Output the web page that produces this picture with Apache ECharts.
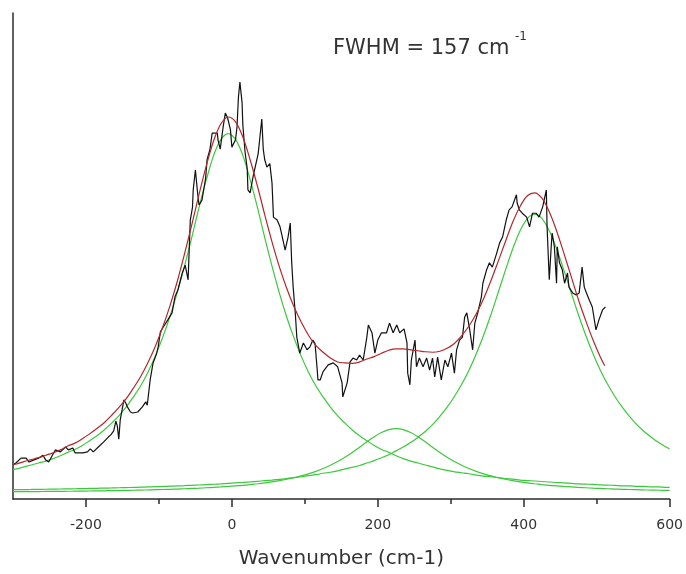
<!DOCTYPE html>
<html><head><meta charset="utf-8">
<script src="https://cdn.jsdelivr.net/npm/echarts@6/dist/echarts.min.js"></script>
<style>html,body{margin:0;padding:0;background:#fff}#c{width:686px;height:574px}</style>
</head><body><div id="c"></div>
<script>
// x positions (cm-1) of the fitted curves
const fitX = [-300,-295,-285,-275,-265,-255,-245,-235,-225,-215,
  -205,-195,-185,-175,-165,-155,-145,-135,-125,-115,
  -105,-95,-85,-75,-65,-55,-45,-35,-25,-15,
  -5,5,15,25,35,45,55,65,75,85,
  95,105,115,125,135,145,155,165,175,185,
  195,205,215,225,235,245,255,265,275,285,
  295,305,315,325,335,345,355,365,375,385,
  395,405,415,425,435,445,455,465,475,485,
  495,505,515,525,535,545,555,565,575,585,
  595,600];
// green component peak near 0
const peak1 = [6.05,6.2,6.6,7.0,7.4,7.8,8.3,8.9,9.6,10.2,
  11.0,12.0,13.0,14.2,15.6,17.1,18.9,21.0,23.3,26.1,
  29.4,33.2,37.5,42.4,47.9,53.8,60.0,65.7,70.7,74.0,
  75.2,74.0,70.7,65.7,60.0,53.8,47.9,42.4,37.5,33.2,
  29.4,26.1,23.3,21.0,18.9,17.1,15.6,14.2,13.0,12.0,
  11.0,10.2,9.6,8.9,8.3,7.8,7.4,7.0,6.6,6.2,
  5.9,5.6,5.4,5.2,4.9,4.7,4.6,4.4,4.2,4.1,
  3.9,3.8,3.7,3.6,3.5,3.4,3.3,3.2,3.1,3.05,
  3.0,2.9,2.84,2.8,2.7,2.7,2.6,2.6,2.5,2.5,
  2.4,2.4];
// green component peak near 225
const peak2 = [1.50,1.50,1.51,1.52,1.53,1.55,1.56,1.58,1.59,1.61,
  1.63,1.65,1.67,1.69,1.72,1.74,1.77,1.80,1.84,1.87,
  1.91,1.95,2.00,2.05,2.11,2.17,2.23,2.31,2.39,2.48,
  2.58,2.70,2.82,2.97,3.14,3.33,3.53,3.78,4.06,4.38,
  4.75,5.18,5.68,6.27,6.95,7.72,8.61,9.59,10.66,11.76,
  12.80,13.69,14.29,14.50,14.29,13.69,12.80,11.76,10.66,9.59,
  8.61,7.72,6.95,6.27,5.68,5.18,4.75,4.38,4.06,3.78,
  3.53,3.33,3.14,2.97,2.82,2.70,2.58,2.48,2.39,2.31,
  2.23,2.17,2.11,2.05,2.00,1.95,1.91,1.87,1.84,1.80,
  1.77,1.76];
// green component peak near 415
const peak3 = [1.91,1.92,1.94,1.96,1.99,2.01,2.03,2.06,2.08,2.11,
  2.14,2.17,2.20,2.24,2.27,2.31,2.35,2.39,2.43,2.48,
  2.53,2.58,2.64,2.69,2.75,2.82,2.88,2.96,3.04,3.12,
  3.21,3.31,3.41,3.52,3.64,3.77,3.9,4.05,4.2,4.4,
  4.6,4.8,5.0,5.3,5.5,5.8,6.2,6.5,6.9,7.4,
  7.9,8.5,9.1,9.9,10.7,11.6,12.7,13.9,15.3,17.0,
  18.9,21.1,23.6,26.5,29.9,33.7,37.9,42.5,47.1,51.5,
  55.2,57.7,58.6,57.7,55.2,51.5,47.1,42.5,37.9,33.7,
  29.9,26.5,23.6,21.1,18.9,17.0,15.3,13.9,12.7,11.6,
  10.7,10.3];
// red cumulative fit
const fitSumX = [-300,-295,-285,-275,-265,-255,-245,-235,-225,-215,
  -205,-195,-185,-175,-165,-155,-145,-135,-125,-115,
  -105,-95,-85,-75,-65,-55,-45,-35,-25,-15,
  -5,5,15,25,35,45,55,65,75,85,
  95,105,115,125,135,145,155,165,175,185,
  195,205,215,225,235,245,255,265,275,285,
  295,305,315,325,335,345,355,365,375,385,
  395,405,415,425,435,445,455,465,475,485,
  495,505,511];
const fitSum = [7.1,7.2,7.7,8.1,8.5,9.0,9.5,10.1,10.9,11.5,
  12.4,13.4,14.5,15.7,17.2,18.8,20.6,22.8,25.2,28.1,
  31.4,35.3,39.7,44.7,50.4,56.4,62.7,68.6,73.7,77.2,
  78.6,77.6,74.5,69.8,64.4,58.5,52.9,47.8,43.4,39.6,
  36.4,33.7,31.6,30.2,29.0,28.2,28.0,27.9,28.2,28.8,
  29.3,30.0,30.6,30.9,30.9,30.7,30.5,30.3,30.2,30.4,
  31.0,32.0,33.6,35.6,38.1,41.2,44.9,48.9,53.0,57.0,
  60.2,62.4,63.0,61.9,59.1,55.2,50.6,45.8,41.0,36.7,
  32.7,29.2,27.4];
// measured spectrum (black)
const dataX = [-300,-296,-289,-282,-278,-272,-265,-259,-255,-251,
  -246,-242,-235,-228,-224,-218,-215,-211,-204,-198,
  -194,-190,-183,-176,-169,-166,-162,-159,-157,-155,
  -153,-148,-145,-143,-139,-136,-129,-123,-118,-116,
  -112,-108,-103,-101,-98,-94,-88,-82,-78,-74,
  -68,-64,-60,-57,-54,-53,-50,-47,-45,-41,
  -36,-34,-30,-27,-20,-19,-16,-12,-9,-6,
  -2,0,5,7,9,11,14,15,18,21,
  22,25,29,33,36,41,43,45,48,52,
  55,57,62,66,69,73,77,80,82,84,
  87,89,93,98,103,107,111,114,117,118,
  121,125,132,139,145,151,152,158,162,166,
  171,175,180,185,187,192,196,200,205,212,
  216,221,226,230,236,240,241,244,246,251,
  253,257,262,267,271,275,278,282,287,292,
  296,301,305,308,312,316,319,322,326,330,
  333,337,342,344,349,353,357,363,367,371,
  376,380,384,390,391,394,398,404,408,412,
  417,421,426,431,432,435,438,439,442,445,
  446,449,453,456,460,462,467,472,476,480,
  483,486,490,494,499,501,503,508,512];
const dataY = [7.0,7.4,8.4,8.4,7.6,8.0,8.4,9.0,8.0,7.6,
  9.0,10.1,9.7,10.7,10.1,10.5,9.5,9.5,9.5,9.7,
  10.3,9.7,10.7,11.7,12.8,13.2,14.0,16.0,15.0,12.3,
  16.3,20.4,19.6,18.9,17.9,17.7,17.9,18.9,20.0,19.3,
  24.5,28.0,30.0,31.3,34.4,35.4,36.8,38.3,41.6,43.0,
  46.5,48.1,45.1,57.4,60.0,63.6,67.7,63.0,60.5,61.5,
  66.0,69.8,72.0,75.3,75.3,73.9,72.0,76.5,79.4,78.5,
  76.0,72.4,73.9,76.5,82.7,85.8,81.5,77.0,71.5,68.0,
  63.6,63.0,66.3,69.0,71.0,78.2,72.0,69.8,68.3,69.0,
  65.0,58.0,57.4,56.0,54.0,51.2,53.9,56.8,48.6,43.6,
  38.0,33.3,30.0,32.1,30.7,31.3,32.7,32.0,26.5,24.5,
  24.5,26.2,27.6,28.0,27.2,23.9,21.0,23.9,28.2,29.0,
  28.6,29.6,28.6,33.3,35.8,34.2,30.0,32.7,34.2,34.2,
  36.2,34.2,35.8,34.2,35.0,32.1,25.9,23.5,28.6,32.7,
  27.2,29.0,27.2,29.0,26.5,29.0,25.1,29.2,24.5,28.6,
  27.2,30.0,25.9,30.7,32.7,33.3,37.4,38.3,34.8,30.7,
  36.2,38.3,41.6,44.4,47.1,48.6,47.7,50.6,52.7,53.9,
  57.4,59.5,60.1,62.6,60.9,59.5,58.8,58.0,56.0,58.8,
  58.8,58.0,60.1,63.6,56.0,45.1,52.7,54.7,51.9,44.4,
  51.9,48.6,47.1,44.4,46.5,43.6,42.4,42.0,42.4,47.7,
  43.6,42.4,40.9,39.5,34.8,34.4,36.8,38.9,39.5];
const majorTicks = [-200, 0, 200, 400, 600];
const minorTicks = [-100, 100, 300, 500];
const axisTitle = 'Wavenumber (cm-1)';
const annotation = 'FWHM = 157 cm';
const annotationSup = '-1';

const zip = (xs, ys) => xs.map((x, i) => [x, ys[i]]);
const axisColor = '#2b2b2b';
const textColor = '#333';
const font = '"DejaVu Sans", sans-serif';
const green = '#3cc83c';

const chart = echarts.init(document.getElementById('c'), null, {renderer: 'canvas'});
const fitLine = (name, xs, ys, color, z) => ({
  name, type: 'line', data: zip(xs, ys), showSymbol: false, smooth: 0.35,
  lineStyle: {color, width: 1.2}, itemStyle: {color}, z, silent: true
});
chart.setOption({
  animation: false,
  backgroundColor: '#fff',
  grid: {left: 13, right: 16, top: 13, bottom: 75, containLabel: false},
  xAxis: [{
    type: 'value', min: -300, max: 600,
    axisLine: {show: true, onZero: false, lineStyle: {color: axisColor, width: 1.5}},
    axisTick: {show: true, customValues: majorTicks, length: 8, inside: false, lineStyle: {color: axisColor, width: 1.5}},
    axisLabel: {show: true, customValues: majorTicks, margin: 19, fontFamily: font, fontSize: 14, color: textColor},
    splitLine: {show: false},
    name: axisTitle, nameLocation: 'middle', nameGap: 50,
    nameTextStyle: {fontFamily: font, fontSize: 20, color: textColor}
  }, {
    type: 'value', min: -300, max: 600, position: 'bottom',
    axisLine: {show: false, onZero: false},
    axisTick: {show: true, customValues: minorTicks, length: 5, lineStyle: {color: axisColor, width: 1.5}},
    axisLabel: {show: false}, splitLine: {show: false}
  }],
  yAxis: {
    type: 'value', min: 0, max: 100,
    axisLine: {show: true, onZero: false, lineStyle: {color: axisColor, width: 1.5}},
    axisTick: {show: false}, axisLabel: {show: false}, splitLine: {show: false}
  },
  graphic: [
    {type: 'text', left: 333, top: 38, style: {text: annotation, font: '21px "DejaVu Sans", sans-serif', fill: textColor}},
    {type: 'text', left: 515, top: 31, style: {text: annotationSup, font: '12px "DejaVu Sans", sans-serif', fill: textColor}}
  ],
  series: [
    fitLine('Peak 1', fitX, peak1, green, 2),
    fitLine('Peak 2', fitX, peak2, green, 2),
    fitLine('Peak 3', fitX, peak3, green, 2),
    {name: 'Data', type: 'line', data: zip(dataX, dataY), showSymbol: false,
     lineStyle: {color: '#111', width: 1.2}, itemStyle: {color: '#111'}, z: 3, silent: true},
    fitLine('Fit', fitSumX, fitSum, '#b0282c', 4)
  ]
});
</script>
</body></html>
